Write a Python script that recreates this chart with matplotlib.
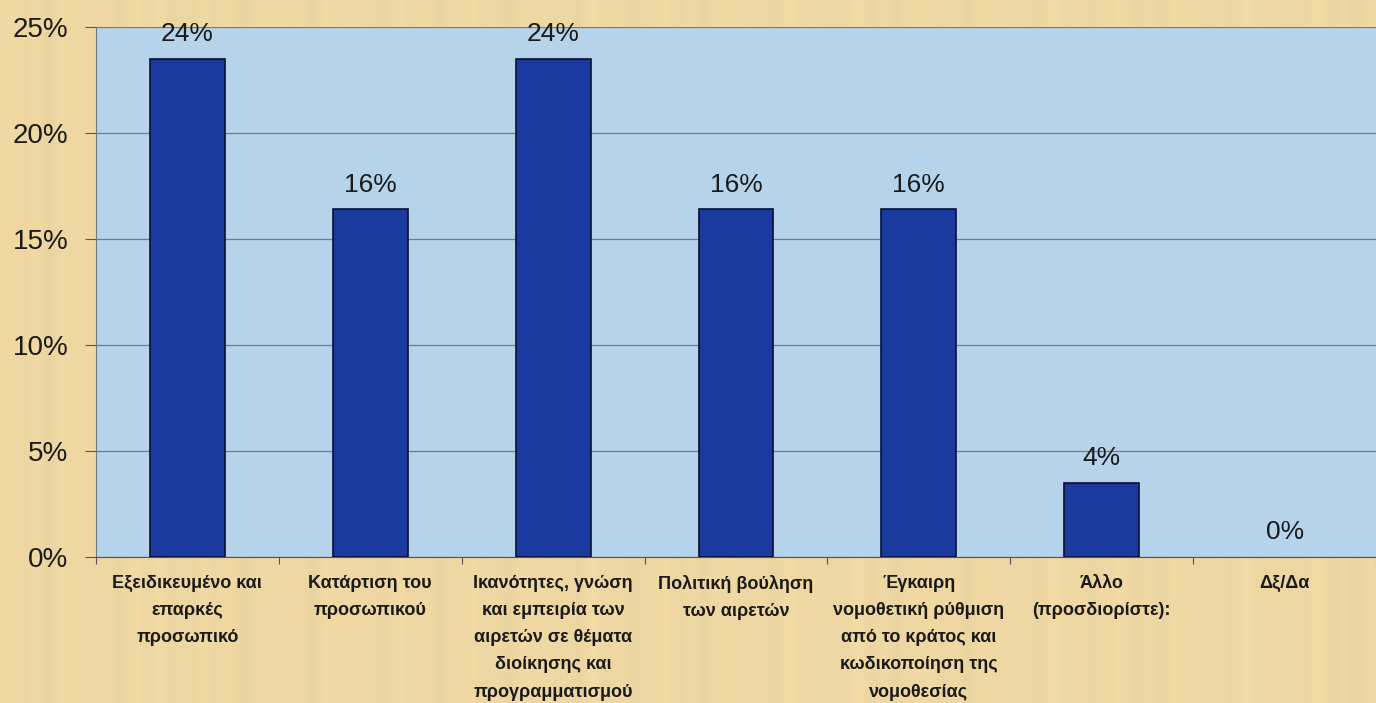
import numpy as np
import matplotlib.pyplot as plt
from matplotlib.ticker import PercentFormatter

# data
categories = [
    "Εξειδικευμένο και\nεπαρκές\nπροσωπικό",
    "Κατάρτιση του\nπροσωπικού",
    "Ικανότητες, γνώση\nκαι εμπειρία των\nαιρετών σε θέματα\nδιοίκησης και\nπρογραμματισμού",
    "Πολιτική βούληση\nτων αιρετών",
    "Έγκαιρη\nνομοθετική ρύθμιση\nαπό το κράτος και\nκωδικοποίηση της\nνομοθεσίας",
    "Άλλο\n(προσδιορίστε):",
    "Δξ/Δα",
]
values = [23.5, 16.4, 23.5, 16.4, 16.4, 3.5, 0.0]
yticks = [0, 5, 10, 15, 20, 25]

plt.rcParams["font.family"] = ["Liberation Sans", "DejaVu Sans"]

fig = plt.figure(figsize=(13.76, 7.03), dpi=100)
fig.patch.set_facecolor("#F1DBA5")

# faint papyrus fibres behind everything
bg = fig.add_axes([0, 0, 1, 1], zorder=-10)
xs = np.linspace(0, 1, 700)
fibre = np.sin(xs * 310) * np.sin(xs * 47) + 0.5 * np.sin(xs * 133)
bg.imshow(fibre[None, :], aspect="auto", cmap="copper", alpha=0.035,
          extent=[0, 1, 0, 1])
bg.set_xlim(0, 1)
bg.set_ylim(0, 1)
bg.axis("off")

ax = fig.add_axes([96 / 1376, 146 / 703, 1 - 96 / 1376, 530 / 703])
ax.set_facecolor("#B6D3EC")

x = np.arange(len(categories))
edges = ["#0A0F30" if v > 0 else "none" for v in values]
ax.bar(x, values, width=0.41, color="#1A3AA0", edgecolor=edges,
       linewidth=1.2, zorder=3)

for xi, v in zip(x, values):
    ax.text(xi, v + 0.6, f"{v:.0f}%", ha="center", va="bottom",
            fontsize=19, color="#1a1a1a", zorder=4)

ax.set_xlim(-0.5, 6.44)
ax.set_ylim(0, 25)
ax.set_yticks(yticks)
ax.yaxis.set_major_formatter(PercentFormatter(decimals=0))
ax.grid(axis="y", color="#7a7a7a", linewidth=0.9, zorder=1)

ax.set_xticks(np.arange(-0.5, 7, 1))
ax.set_xticklabels([])
ax.tick_params(axis="x", length=5, color="#555555", direction="out")
ax.set_xticks(x, minor=True)
ax.set_xticklabels(categories, minor=True, fontsize=13, fontweight="bold",
                   linespacing=1.78, va="top", color="#1a1a1a")
ax.tick_params(axis="x", which="minor", length=0, pad=13)
ax.tick_params(axis="y", labelsize=20, length=8, color="#555555",
               labelcolor="#1a1a1a", pad=12)

for side in ["top", "right"]:
    ax.spines[side].set_visible(False)
ax.spines["left"].set_color("#777777")
ax.spines["bottom"].set_color("#555555")

fig.savefig("out.png", dpi=100, facecolor=fig.get_facecolor())
